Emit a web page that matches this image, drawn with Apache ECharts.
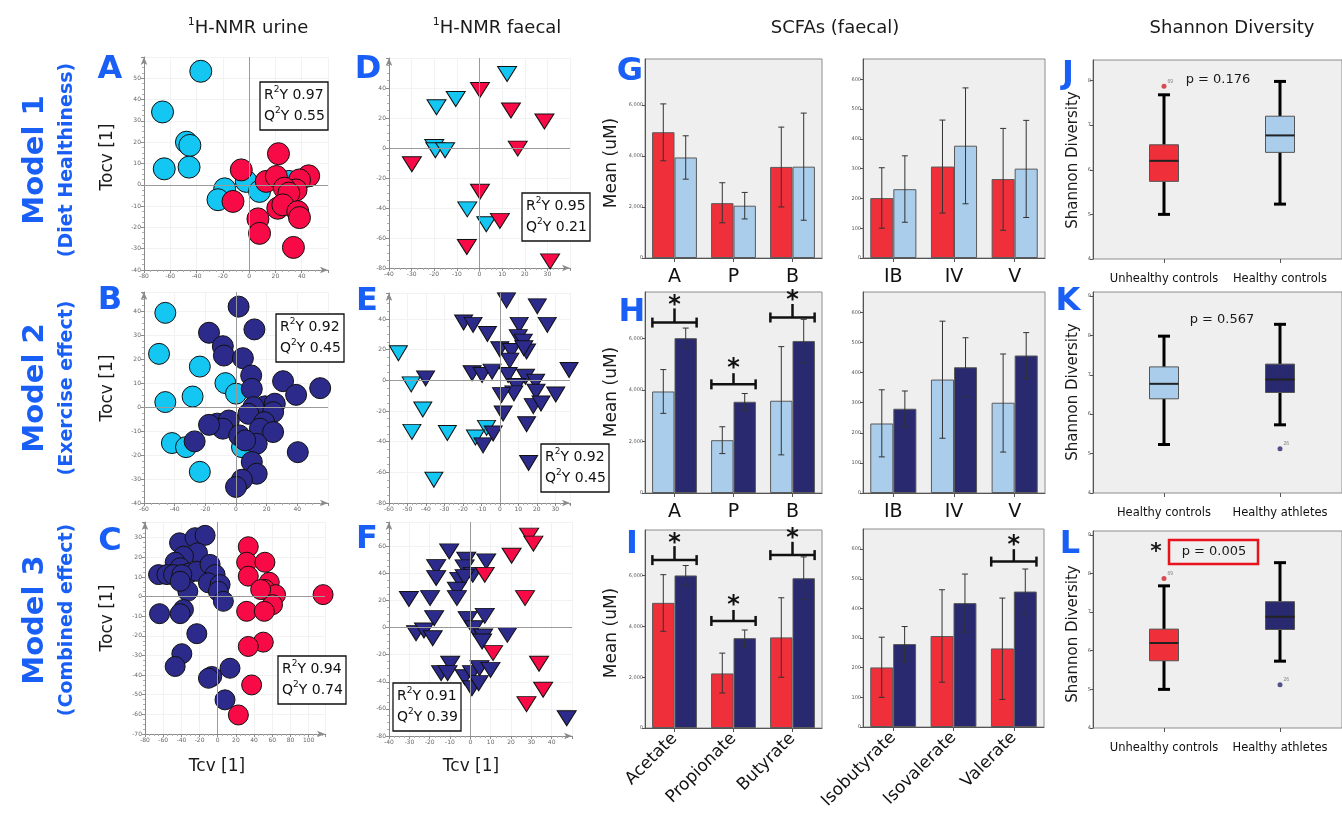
<!DOCTYPE html>
<html><head><meta charset="utf-8">
<script src="https://cdn.jsdelivr.net/npm/echarts@6/dist/echarts.min.js"></script>
<style>html,body{margin:0;padding:0;background:#fff}#c{width:1342px;height:818px}</style>
</head><body><div id="c"></div><script>
// ---------- DATA ----------
const urineM1Healthy=[[-36.8,53.3],[-65.9,34.2],[-47.7,20],[-45.1,18.5],[-64.6,7.5],[-45.7,8.3],[-18.6,-1.9],[-23.7,-7],[-2.2,1.6],[7.9,-3.1],[30.2,1.6]];
const urineM1Unhealthy=[[-6,7],[-12.3,-7.8],[22.3,14.6],[13,1.6],[20.7,3.9],[45.3,4.2],[38.3,2.3],[35.7,-2.4],[26.8,-1.6],[30.2,-3.9],[21.8,-11],[25.6,-9.4],[37,-12.6],[38.3,-15.4],[6.7,-16],[7.9,-22.8],[33.7,-29.4]];
const faecalM1Healthy=[[12.2,49.3],[-19,27.2],[-10.5,32.7],[-20,0.7],[-19.5,-1.5],[-15.2,-1.5],[-5.4,-40.9],[3,-50.8]];
const faecalM1Unhealthy=[[0.2,38.7],[13.9,25],[28.7,17.7],[16.9,-0.4],[-29.9,-10.8],[0.2,-29.2],[9,-48.6],[-5.6,-66],[31.2,-75.6]];
const urineM2Healthy=[[-46.1,39.3],[-50.2,22.2],[-23.6,16.9],[-46.1,2.1],[-28.3,4.4],[-6.9,10],[0,5.6],[-41.8,-15],[-32.6,-16.7],[-23.6,-27],[3.9,-16.7]];
const urineM2Athletes=[[1.7,41.9],[12,32.4],[-17.6,31],[-8.6,25.4],[-7.9,21.5],[4.5,20.4],[9.9,13.2],[30.7,10.8],[10.3,7.6],[39.2,5.1],[54.9,7.9],[18.9,0.3],[25.3,1.4],[11.4,0],[24.2,-2.1],[8.1,-2.8],[18.4,-6.3],[15.6,-9],[24.2,-10.4],[-12.2,-6.9],[-4.7,-5.6],[-8.6,-9],[2.1,-11.8],[13.5,-15.3],[6,-13.9],[-27,-14.3],[40.3,-18.8],[10.3,-22.9],[13.5,-27.8],[3.9,-30.3],[0,-33.3],[-17.6,-7.4]];
const faecalM2Healthy=[[-54.9,17.7],[-48,-2.6],[-41.7,-19],[-47.6,-33.6],[-28.4,-34.3],[-7.2,-31],[-13.2,-37.3],[-35.7,-64.8]];
const faecalM2Athletes=[[3.6,52.2],[20.3,48.3],[-19.6,37.8],[-14.5,36.2],[-6.7,30.3],[10.5,36.2],[25.7,36.2],[10,28.2],[12.7,25.3],[0,20.3],[6.3,19.2],[14.5,18.8],[13,21],[5.4,12.9],[-15,4.6],[-9.6,3.5],[-4.2,5.7],[-40.2,1.3],[37.5,6.8],[4.5,3.5],[13.9,2.4],[19.4,-0.9],[9.1,-3.7],[7.6,-8.5],[0.9,-9.6],[19.6,-7.4],[30.3,-9.2],[18.1,-16.8],[22.3,-15.1],[1.8,-21.6],[14.5,-28.6],[-3.6,-34.7],[-9.1,-42.4],[15.6,-53.9]];
const urineM3Unhealthy=[[33.6,25.4],[31.8,17.5],[51.9,17.5],[33.6,10.4],[56.7,7.3],[51.9,3.6],[63.6,1],[60.3,-4.1],[47.2,3.6],[31.8,-7.5],[51.2,-7.5],[115.9,1],[50.1,-23.2],[33.6,-25.4],[37.3,-45],[22.7,-60.3]];
const urineM3Athletes=[[-42,27.4],[-24.9,30],[-13.9,31.2],[-22.3,22.3],[-37.7,20.6],[-46.8,17.5],[-41.3,14.7],[-65.1,11.2],[-55.9,11.2],[-48.6,11.2],[-31.1,12.1],[-23,12.9],[-8.4,16.4],[-39.5,11.2],[-2.9,11.2],[-10.2,7],[2.6,6.1],[0.7,2.7],[6.2,-2.4],[-32.9,2.7],[-41.3,7.8],[-64,-8.7],[-37.7,-6.6],[-41.3,-8.7],[-23,-18.9],[-39.5,-29.1],[-46.8,-35.6],[13.5,-36.5],[-6.6,-40.7],[-10.2,-41.6],[8,-52.6]];
const faecalM3Unhealthy=[[28.9,67.9],[31,62],[20.3,53.1],[7.1,39],[26.9,21.8],[11.2,-18.8],[33.8,-26.7],[35.8,-45.9],[27.6,-56.5]];
const faecalM3Athletes=[[-10.4,56.3],[-16.8,44.7],[-16.8,36.6],[-2,50.1],[-2.8,44.5],[7.8,48.9],[1.2,39],[-5.4,35.3],[-2.8,37.3],[-6.6,28],[-6.6,21.8],[-30.2,21.1],[-19.8,21.8],[-17.8,7],[-1.3,6.3],[7.1,8.7],[-26.7,-4.1],[-22.8,-2.1],[-18.5,-7.8],[1.7,-0.4],[6.3,-6.5],[5.8,-10.2],[18.2,-5.3],[-9.9,-26.7],[-14.4,-33.6],[-11.2,-33.6],[-2.8,-36.6],[0.8,-33.6],[4.5,-29.9],[9.9,-31.2],[0.8,-44.7],[4.1,-41],[47.4,-66.9]];

const modelStats=[['0.97','0.55'],['0.95','0.21'],['0.92','0.45'],['0.92','0.45'],['0.94','0.74'],['0.91','0.39']];

const scfaMajorShort=['A','P','B'];
const scfaMinorShort=['IB','IV','V'];
const scfaMajorFull=['Acetate','Propionate','Butyrate'];
const scfaMinorFull=['Isobutyrate','Isovalerate','Valerate'];

const unhealthyMajorMean=[4930,2150,3570], unhealthyMajorLow=[3810,1380,2000], unhealthyMajorHigh=[6040,2950,5130];
const healthyMajorMean=[3940,2050,3580],  healthyMajorLow=[3090,1530,1480],  healthyMajorHigh=[4790,2570,5680];
const athleteMajorMean=[6010,3540,5900],  athleteMajorLow=[5630,3210,5060],  athleteMajorHigh=[6400,3860,6740];
const unhealthyMinorMean=[201,307,265], unhealthyMinorLow=[100,151,93], unhealthyMinorHigh=[303,463,435];
const healthyMinorMean=[231,377,300],   healthyMinorLow=[120,182,136],  healthyMinorHigh=[343,571,462];
const athleteMinorMean=[280,418,457],   athleteMinorLow=[220,320,381],  athleteMinorHigh=[339,516,533];

// significance brackets: [category, bracket y, stem top y, star y]
const bracketsH=[[0,6614,7164,7430],[1,4217,4650,4977],[2,6811,7335,7597]];
const bracketsI=[[0,6614,7164,7430],[1,4217,4650,4977],[2,6811,7335,7597]];
const bracketsI2=[[2,558,600,626]];

const groupsJ=['Unhealthy controls','Healthy controls'];
const groupsK=['Healthy controls','Healthy athletes'];
const groupsL=['Unhealthy controls','Healthy athletes'];
// [low whisker, Q1, median, Q3, high whisker]
const shannonUnhealthy=[5.0,5.74,6.2,6.56,7.68];
const shannonHealthy=[5.23,6.39,6.77,7.2,7.98];
const shannonAthletes=[5.73,6.55,6.88,7.27,8.28];
const outlierUnhealthy=[7.87,'69'];
const outlierAthletes=[5.12,'26'];
const pValues=['p = 0.176','p = 0.567','p = 0.005'];

// ---------- STYLE ----------
const FONT='DejaVu Sans';
const C_RED='#f70a45', C_CYAN='#14c6f2', C_NAVY='#2c2b8c';
const B_RED='#ef2f3a', B_BLUE='#a9cdeb', B_NAVY='#28296f';
const BLUE_LAB='#1a5ff5';

const grids=[],xAxes=[],yAxes=[],series=[],graphics=[];
function addGrid(l,t,r,b,extra){grids.push(Object.assign({left:l,top:t,width:r-l,height:b-t},extra||{}));return grids.length-1;}

function scatterPanel(rect,xr,yr,groups,tri){
  const gi=addGrid(...rect);
  const ax=(min,max,int)=>({gridIndex:gi,type:'value',min,max,interval:int,
    axisLine:{show:true,onZero:false,symbol:['none','arrow'],symbolSize:[5,8],lineStyle:{color:'#8a8a8a',width:1}},
    axisTick:{show:true,length:3,lineStyle:{color:'#8a8a8a'}},
    minorTick:{show:true,splitNumber:4,length:2,lineStyle:{color:'#b0b0b0'}},
    axisLabel:{fontSize:6,color:'#666',showMaxLabel:false,margin:3,fontFamily:FONT},
    splitLine:{show:true,lineStyle:{color:'#f2f2f2'}}});
  xAxes.push(ax(...xr)); yAxes.push(ax(...yr));
  const xi=xAxes.length-1, yi=yAxes.length-1;
  series.push({type:'scatter',xAxisIndex:xi,yAxisIndex:yi,data:[[0,0]],symbolSize:0,silent:true,z:1,
    markLine:{silent:true,symbol:'none',label:{show:false},lineStyle:{color:'#9a9a9a',width:1,type:'solid'},data:[{xAxis:0},{yAxis:0}]}});
  groups.forEach((g,k)=>{
    series.push({type:'scatter',xAxisIndex:xi,yAxisIndex:yi,data:g.data,silent:true,z:3+k,
      symbol:tri?'triangle':'circle',symbolRotate:tri?180:0,symbolSize:g.size,
      itemStyle:{color:g.color,borderColor:'#111',borderWidth:1,opacity:1}});
  });
}

function errRender(off){return function(params,api){
  const c=api.value(0), band=api.size([1,0])[0];
  const p1=api.coord([c,api.value(1)]), p2=api.coord([c,api.value(2)]);
  const x=p1[0]+off*band, w=3;
  const st={stroke:'#333',lineWidth:1};
  return {type:'group',children:[
    {type:'line',shape:{x1:x,y1:p1[1],x2:x,y2:p2[1]},style:st},
    {type:'line',shape:{x1:x-w,y1:p1[1],x2:x+w,y2:p1[1]},style:st},
    {type:'line',shape:{x1:x-w,y1:p2[1],x2:x+w,y2:p2[1]},style:st}]};
};}
function bracketRender(params,api){
  const c=api.value(0), band=api.size([1,0])[0];
  const pB=api.coord([c,api.value(1)]), pS=api.coord([c,api.value(2)]), pT=api.coord([c,api.value(3)]);
  const h=band*0.375, x0=pB[0]-h, x1=pB[0]+h;
  const st={stroke:'#111',lineWidth:2.5};
  return {type:'group',children:[
    {type:'line',shape:{x1:x0,y1:pB[1],x2:x1,y2:pB[1]},style:st},
    {type:'line',shape:{x1:x0,y1:pB[1]-5,x2:x0,y2:pB[1]+5},style:st},
    {type:'line',shape:{x1:x1,y1:pB[1]-5,x2:x1,y2:pB[1]+5},style:st},
    {type:'line',shape:{x1:pB[0],y1:pB[1],x2:pB[0],y2:pS[1]},style:st},
    {type:'text',x:pB[0],y:pT[1]+4,style:{text:'*',fontSize:24,fontWeight:'bold',fontFamily:FONT,fill:'#111',align:'center',verticalAlign:'middle'}}]};
}

function barPanel(rect,cats,yMax,yInt,groups,rotate,brackets){
  const gi=addGrid(...rect,{show:true,backgroundColor:'#efefef',borderColor:'#8c8c8c',borderWidth:1});
  xAxes.push({gridIndex:gi,type:'category',data:cats,axisLine:{show:true,lineStyle:{color:'#555'}},
    axisTick:{show:true,alignWithLabel:true,length:4,lineStyle:{color:'#555'}},
    axisLabel:{interval:0,fontSize:rotate?17:19,color:'#111',fontFamily:FONT,margin:rotate?8:10,rotate:rotate?45:0},splitLine:{show:false}});
  yAxes.push({gridIndex:gi,type:'value',min:0,max:yMax,interval:yInt,axisLine:{show:true,lineStyle:{color:'#555'}},
    axisTick:{show:true,length:3,lineStyle:{color:'#555'}},
    axisLabel:{fontSize:5,color:'#555',fontFamily:FONT,showMaxLabel:false,margin:2,formatter:v=>v.toLocaleString('en-US')},splitLine:{show:false}});
  const xi=xAxes.length-1, yi=yAxes.length-1;
  groups.forEach((g,k)=>{
    series.push({type:'bar',xAxisIndex:xi,yAxisIndex:yi,data:g.mean,barCategoryGap:'24%',barGap:'0%',silent:true,
      itemStyle:{color:g.color,borderColor:'#5a5a5a',borderWidth:1}});
  });
  groups.forEach((g,k)=>{
    series.push({type:'custom',xAxisIndex:xi,yAxisIndex:yi,silent:true,z:5,renderItem:errRender(k===0?-0.19:0.19),
      encode:{x:0,y:[1,2]},data:g.low.map((v,i)=>[i,v,g.high[i]])});
  });
  if(brackets) series.push({type:'custom',xAxisIndex:xi,yAxisIndex:yi,silent:true,z:6,renderItem:bracketRender,
      encode:{x:0,y:[1,2,3]},data:brackets});
}

function boxRender(params,api){
  const x=api.value(0);
  const pLo=api.coord([x,api.value(1)]),pQ1=api.coord([x,api.value(2)]),pMd=api.coord([x,api.value(3)]),pQ3=api.coord([x,api.value(4)]),pHi=api.coord([x,api.value(5)]);
  const cx=pLo[0], hw=14.5, cw=6;
  const st={stroke:'#000',lineWidth:3};
  return {type:'group',children:[
    {type:'line',shape:{x1:cx,y1:pHi[1],x2:cx,y2:pQ3[1]},style:st},
    {type:'line',shape:{x1:cx,y1:pQ1[1],x2:cx,y2:pLo[1]},style:st},
    {type:'line',shape:{x1:cx-cw,y1:pHi[1],x2:cx+cw,y2:pHi[1]},style:st},
    {type:'line',shape:{x1:cx-cw,y1:pLo[1],x2:cx+cw,y2:pLo[1]},style:st},
    {type:'rect',shape:{x:cx-hw,y:pQ3[1],width:2*hw,height:pQ1[1]-pQ3[1]},style:{fill:api.visual('color'),stroke:'#555',lineWidth:1}},
    {type:'line',shape:{x1:cx-hw,y1:pMd[1],x2:cx+hw,y2:pMd[1]},style:{stroke:'#222',lineWidth:2}}]};
}
function boxPanel(top,bottom,yMax,cats,boxes,outliers){
  const bg=addGrid(1093,top,1342,bottom,{show:true,backgroundColor:'#efefef',borderColor:'#8c8c8c',borderWidth:1});
  xAxes.push({gridIndex:bg,type:'value',min:0,max:1,show:false});
  const yAx={gridIndex:bg,type:'value',min:4,max:yMax,interval:1,axisLine:{show:true,lineStyle:{color:'#555'}},
    axisTick:{show:true,length:3,lineStyle:{color:'#555'}},axisLabel:{fontSize:5,color:'#555',fontFamily:FONT,showMaxLabel:false,margin:2},splitLine:{show:false}};
  yAxes.push(yAx);
  const gi=addGrid(1106,top,1338,bottom);
  xAxes.push({gridIndex:gi,type:'category',data:cats,axisLine:{show:false},axisTick:{show:true,alignWithLabel:true,length:4,lineStyle:{color:'#555'}},
    axisLabel:{interval:0,hideOverlap:false,fontSize:11.5,color:'#111',fontFamily:FONT,margin:14},splitLine:{show:false}});
  yAxes.push({gridIndex:gi,type:'value',min:4,max:yMax,show:false});
  const xi=xAxes.length-1, yi=yAxes.length-1;
  series.push({type:'custom',xAxisIndex:xi,yAxisIndex:yi,silent:true,renderItem:boxRender,encode:{x:0,y:[1,2,3,4,5]},
    data:boxes.map((b,i)=>({value:[i,...b.stats],itemStyle:{color:b.color}}))});
  series.push({type:'scatter',xAxisIndex:xi,yAxisIndex:yi,silent:true,symbolSize:5,
    data:outliers.map(o=>({value:[o.cat,o.v[0]],itemStyle:{color:o.color},label:{show:true,formatter:o.v[1],position:[6,-5],fontSize:5,color:'#666'}}))});
}

// ---------- PANELS ----------
scatterPanel([144,57,328,270],[-80,60,20],[-40,60,10],[{data:urineM1Healthy,color:C_CYAN,size:22},{data:urineM1Unhealthy,color:C_RED,size:22}],false);
scatterPanel([389,58,570,268],[-40,40,10],[-80,60,20],[{data:faecalM1Healthy,color:C_CYAN,size:[19,15]},{data:faecalM1Unhealthy,color:C_RED,size:[19,15]}],true);
barPanel([645,59,822,258],scfaMajorShort,7800,2000,[{mean:unhealthyMajorMean,low:unhealthyMajorLow,high:unhealthyMajorHigh,color:B_RED},{mean:healthyMajorMean,low:healthyMajorLow,high:healthyMajorHigh,color:B_BLUE}],false,null);
barPanel([863,59,1045,258],scfaMinorShort,668,100,[{mean:unhealthyMinorMean,low:unhealthyMinorLow,high:unhealthyMinorHigh,color:B_RED},{mean:healthyMinorMean,low:healthyMinorLow,high:healthyMinorHigh,color:B_BLUE}],false,null);
boxPanel(60,259,8.46,groupsJ,[{stats:shannonUnhealthy,color:B_RED},{stats:shannonHealthy,color:B_BLUE}],[{cat:0,v:outlierUnhealthy,color:'#d0202a'}]);

scatterPanel([144,292,328,503],[-60,60,20],[-40,48,10],[{data:urineM2Healthy,color:C_CYAN,size:21},{data:urineM2Athletes,color:C_NAVY,size:21}],false);
scatterPanel([389,293,570,503],[-60,38,10],[-80,57,20],[{data:faecalM2Healthy,color:C_CYAN,size:[18,15]},{data:faecalM2Athletes,color:C_NAVY,size:[18,15]}],true);
barPanel([645,292,822,493],scfaMajorShort,7800,2000,[{mean:healthyMajorMean,low:healthyMajorLow,high:healthyMajorHigh,color:B_BLUE},{mean:athleteMajorMean,low:athleteMajorLow,high:athleteMajorHigh,color:B_NAVY}],false,bracketsH);
barPanel([863,292,1045,493],scfaMinorShort,668,100,[{mean:healthyMinorMean,low:healthyMinorLow,high:healthyMinorHigh,color:B_BLUE},{mean:athleteMinorMean,low:athleteMinorLow,high:athleteMinorHigh,color:B_NAVY}],false,null);
boxPanel(292,493,9.1,groupsK,[{stats:shannonHealthy,color:B_BLUE},{stats:shannonAthletes,color:B_NAVY}],[{cat:1,v:outlierAthletes,color:B_NAVY}]);

scatterPanel([145,522,325,734],[-80,118,20],[-70,38,10],[{data:urineM3Athletes,color:C_NAVY,size:20},{data:urineM3Unhealthy,color:C_RED,size:20}],false);
scatterPanel([389,522,572,736],[-40,50,10],[-80,78,20],[{data:faecalM3Athletes,color:C_NAVY,size:[19,15]},{data:faecalM3Unhealthy,color:C_RED,size:[19,15]}],true);
barPanel([645,530,822,728],scfaMajorFull,7800,2000,[{mean:unhealthyMajorMean,low:unhealthyMajorLow,high:unhealthyMajorHigh,color:B_RED},{mean:athleteMajorMean,low:athleteMajorLow,high:athleteMajorHigh,color:B_NAVY}],true,bracketsI);
barPanel([863,529,1044,727],scfaMinorFull,668,100,[{mean:unhealthyMinorMean,low:unhealthyMinorLow,high:unhealthyMinorHigh,color:B_RED},{mean:athleteMinorMean,low:athleteMinorLow,high:athleteMinorHigh,color:B_NAVY}],true,bracketsI2);
boxPanel(531,728,9.1,groupsL,[{stats:shannonUnhealthy,color:B_RED},{stats:shannonAthletes,color:B_NAVY}],[{cat:0,v:outlierUnhealthy,color:'#d0202a'},{cat:1,v:outlierAthletes,color:B_NAVY}]);

// ---------- TEXT ----------
function txt(x,y,text,size,opts){
  opts=opts||{};
  graphics.push({type:'text',x,y,rotation:opts.rot||0,z:200,silent:true,
    style:Object.assign({text,fontSize:size,fontFamily:FONT,fill:opts.fill||'#1a1a1a',fontWeight:opts.bold?'bold':'normal',align:'center',verticalAlign:'middle'},opts.style||{})});
}
function sup(x,y,s,t,size){
  graphics.push({type:'text',x,y,z:200,silent:true,style:{text:'{s|'+s+'}{t|'+t+'}',align:'center',verticalAlign:'middle',
    rich:{s:{fontSize:Math.round(size*0.6),fontFamily:FONT,fill:'#1a1a1a',verticalAlign:'top'},t:{fontSize:size,fontFamily:FONT,fill:'#1a1a1a',lineHeight:size+4}}}});
}
sup(248,28,'1','H-NMR urine',18);
sup(497,28,'1','H-NMR faecal',18);
txt(835,28,'SCFAs (faecal)',18);
txt(1232,28,'Shannon Diversity',18);

const modelY=[160,388,620];
const modelSub=['(Diet Healthiness)','(Exercise effect)','(Combined effect)'];
modelY.forEach((y,i)=>{
  txt(35,y,'Model '+(i+1),29,{rot:Math.PI/2,bold:true,fill:BLUE_LAB});
  txt(67,y,modelSub[i],19,{rot:Math.PI/2,bold:true,fill:BLUE_LAB});
});
const letters=[['A',110,70],['D',368,70],['G',630,72],['J',1068,75],['B',110,301],['E',367,302],['H',632,313],['K',1068,302],['C',110,542],['F',367,540],['I',632,545],['L',1070,545]];
letters.forEach(l=>txt(l[1],l[2],l[0],32,{bold:true,fill:BLUE_LAB}));

[157,388,618].forEach(y=>txt(108,y,'Tocv [1]',17,{rot:Math.PI/2}));
txt(217,767,'Tcv [1]',17); txt(471,767,'Tcv [1]',17);
[163,392,633].forEach(y=>txt(612,y,'Mean (uM)',17,{rot:Math.PI/2}));
[160,392,634].forEach(y=>txt(1073,y,'Shannon Diversity',15,{rot:Math.PI/2}));

const statBoxes=[[260,82],[522,193],[276,314],[541,444],[278,656],[393,683]];
statBoxes.forEach((b,i)=>{
  graphics.push({type:'rect',shape:{x:b[0],y:b[1],width:68,height:48},style:{fill:'#fff',stroke:'#111',lineWidth:1.3},z:190,silent:true});
  const rich={a:{fontSize:14,fontFamily:FONT,fill:'#111',lineHeight:21},s:{fontSize:9,fontFamily:FONT,fill:'#111',verticalAlign:'top'}};
  graphics.push({type:'text',x:b[0]+4,y:b[1]+24,z:200,silent:true,style:{text:'{a|R}{s|2}{a|Y '+modelStats[i][0]+'}\n{a|Q}{s|2}{a|Y '+modelStats[i][1]+'}',rich,align:'left',verticalAlign:'middle'}});
});

txt(1218,80,pValues[0],13);
txt(1222,320,pValues[1],13);
txt(1214,552,pValues[2],13);
graphics.push({type:'rect',shape:{x:1169,y:540,width:89,height:24},style:{fill:'none',stroke:'#e8121c',lineWidth:2.5},z:190,silent:true});
txt(1156,552,'*',22,{bold:true});

const chart=echarts.init(document.getElementById('c'),null,{renderer:'canvas'});
chart.setOption({animation:false,backgroundColor:'#fff',grid:grids,xAxis:xAxes,yAxis:yAxes,series,graphic:graphics});
</script></body></html>
